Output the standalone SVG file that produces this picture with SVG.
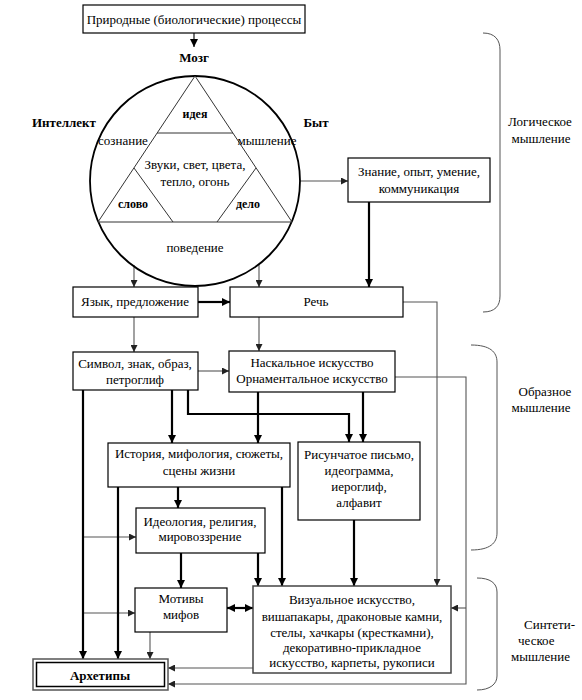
<svg xmlns="http://www.w3.org/2000/svg" width="582" height="700" viewBox="0 0 582 700">
<defs>
<marker id="a" viewBox="0 0 10 10" refX="10" refY="5" markerWidth="8" markerHeight="8" markerUnits="userSpaceOnUse" orient="auto"><path d="M0,0 L10,5 L0,10 z" fill="#000"/></marker>
<marker id="s" viewBox="0 0 10 10" refX="10" refY="5" markerWidth="8" markerHeight="8" markerUnits="userSpaceOnUse" orient="auto-start-reverse"><path d="M0,0 L10,5 L0,10 z" fill="#000"/></marker>
<marker id="g" viewBox="0 0 10 10" refX="10" refY="5" markerWidth="7" markerHeight="7" markerUnits="userSpaceOnUse" orient="auto"><path d="M0,0 L10,5 L0,10 z" fill="#222"/></marker>
</defs>
<style>
text{font-family:"Liberation Serif","Times New Roman",serif;font-size:13px;fill:#000;text-anchor:middle}
.b{font-weight:bold}
.st{text-anchor:start}
.box{fill:#fff;stroke:#000;stroke-width:1.2}
.thick{stroke:#000;stroke-width:2.2;fill:none}
.thin{stroke:#555;stroke-width:1.1;fill:none}
.br{stroke:#555;stroke-width:1;fill:none}
.tri{stroke:#333;stroke-width:1;fill:none}
</style>
<rect width="582" height="700" fill="#fff"/>

<g id="connectors">
<path class="thin" style="stroke:#000" d="M194,33 V47" marker-end="url(#a)"/>
<path class="thin" d="M300,181 H348" marker-end="url(#g)"/>
<path class="thin" d="M134,265 V287" marker-end="url(#g)"/>
<path class="thin" d="M259,264 V287" marker-end="url(#g)"/>
<path class="thin" d="M134,317 V352" marker-end="url(#g)"/>
<path class="thin" d="M259,317 V351" marker-end="url(#g)"/>
<path class="thin" d="M198,371 H229" marker-end="url(#g)"/>
<path class="thin" d="M403,302 H437 V586" marker-end="url(#g)"/>
<path class="thin" d="M395,377 H466 V684 H168" marker-end="url(#g)"/>
<path class="thin" d="M466,608 H451" marker-end="url(#g)"/>
<path class="thin" d="M253,668 H168" marker-end="url(#g)"/>
<path class="thin" d="M83,537 H136" marker-end="url(#g)"/>
<path class="thin" d="M83,613 H135" marker-end="url(#g)"/>
<path class="thin" d="M150,632 V659" marker-end="url(#g)"/>

<path class="thick" d="M369,202 V287" marker-end="url(#a)"/>
<path class="thick" d="M198,302 H230" marker-end="url(#a)"/>
<path class="thick" d="M83,390 V659" marker-end="url(#a)"/>
<path class="thick" d="M172,390 V443" marker-end="url(#a)"/>
<path class="thick" d="M188,390 V414 H349 V442" marker-end="url(#a)"/>
<path class="thick" d="M258,392 V443" marker-end="url(#a)"/>
<path class="thick" d="M363,392 V442" marker-end="url(#a)"/>
<path class="thick" d="M118,487 V659" marker-end="url(#a)"/>
<path class="thick" d="M178,487 V508" marker-end="url(#a)"/>
<path class="thick" d="M282,487 V586" marker-end="url(#a)"/>
<path class="thick" d="M181,553 V588" marker-end="url(#a)"/>
<path class="thick" d="M258,553 V586" marker-end="url(#a)"/>
<path class="thick" d="M354,520 V586" marker-end="url(#a)"/>
<path class="thick" d="M227,608 H253" marker-start="url(#s)" marker-end="url(#s)"/>
</g>

<g id="n-top"><rect class="box" x="83" y="5" width="222" height="28"/><text x="194" y="23.5">Природные (биологические) процессы</text></g>
<g id="n-mozg"><text class="b" x="194" y="62">Мозг</text></g>
<g id="n-intellekt"><text class="b" x="64" y="127">Интеллект</text></g>
<g id="n-byt"><text class="b" x="316" y="127">Быт</text></g>

<g id="n-brain">
<circle cx="195" cy="181" r="105" fill="none" stroke="#000" stroke-width="1.8"/>
<path class="tri" d="M195,76 L98,222 L292,222 Z"/>
<path class="tri" d="M157,133 H233"/>
<path class="tri" d="M134,168 L173,222"/>
<path class="tri" d="M256,168 L217,222"/>
<text class="b" x="195" y="118" style="font-size:12px">идея</text>
<text x="123" y="145">сознание</text>
<text x="267" y="145">мышление</text>
<text x="195" y="169">Звуки, свет, цвета,</text>
<text x="195" y="186">тепло, огонь</text>
<text class="b" x="133" y="208" style="font-size:12px">слово</text>
<text class="b" x="248" y="208" style="font-size:12px">дело</text>
<text x="195" y="252">поведение</text>
</g>

<g id="n-znanie"><rect class="box" x="348" y="158" width="142" height="44"/><text x="419" y="176">Знание, опыт, умение,</text><text x="419" y="193">коммуникация</text></g>
<g id="n-yazyk"><rect class="box" x="73" y="287" width="125" height="30"/><text x="135" y="306">Язык, предложение</text></g>
<g id="n-rech"><rect class="box" x="230" y="287" width="173" height="30"/><text x="316" y="306">Речь</text></g>
<g id="n-simvol"><rect class="box" x="73" y="352" width="125" height="38"/><text x="135" y="368">Символ, знак, образ,</text><text x="135" y="384">петроглиф</text></g>
<g id="n-naskal"><rect class="box" x="229" y="351" width="166" height="41"/><text x="312" y="367">Наскальное искусство</text><text x="312" y="383">Орнаментальное искусство</text></g>
<g id="n-istoria"><rect class="box" x="108" y="443" width="182" height="44"/><text x="199" y="458">История, мифология, сюжеты,</text><text x="199" y="475">сцены жизни</text></g>
<g id="n-risun"><rect class="box" x="298" y="442" width="122" height="78"/><text x="359" y="459">Рисунчатое письмо,</text><text x="359" y="475">идеограмма,</text><text x="359" y="491">иероглиф,</text><text x="359" y="507">алфавит</text></g>
<g id="n-ideol"><rect class="box" x="136" y="508" width="129" height="45"/><text x="200" y="526">Идеология, религия,</text><text x="200" y="541">мировоззрение</text></g>
<g id="n-motivy"><rect class="box" x="135" y="588" width="92" height="44"/><text x="181" y="603">Мотивы</text><text x="181" y="619">мифов</text></g>
<g id="n-visual"><rect class="box" x="253" y="586" width="198" height="87" style="stroke:#444;stroke-width:1.5"/><text x="352" y="604">Визуальное искусство,</text><text x="352" y="621">вишапакары, драконовые камни,</text><text x="352" y="637">стелы, хачкары (кресткамни),</text><text x="352" y="652">декоративно-прикладное</text><text x="352" y="667">искусство, карпеты, рукописи</text></g>
<g id="n-arhetipy"><rect x="33" y="659" width="135" height="31" fill="#fff" stroke="#555" stroke-width="1.5"/><rect x="36.5" y="662.5" width="128" height="24" fill="none" stroke="#000" stroke-width="1.5"/><text class="b" x="100" y="680">Архетипы</text></g>

<g id="brackets">
<path class="br" d="M483,33 C495,33 500,40 500,50 V296 C500,306 495,312 483,312"/>
<path class="br" d="M471,345 C490,345 497,352 497,362 V533 C497,543 490,550 471,550"/>
<path class="br" d="M477,578 C490,578 497,583 497,592 V676 C497,684 490,690 477,690"/>
<text x="540" y="126">Логическое</text><text x="541" y="143">мышление</text>
<text x="545" y="396">Образное</text><text x="541" y="412">мышление</text>
<text class="st" x="524" y="629">Синтети-</text><text class="st" x="518" y="645">ческое</text><text class="st" x="511" y="661">мышление</text>
</g>
</svg>
